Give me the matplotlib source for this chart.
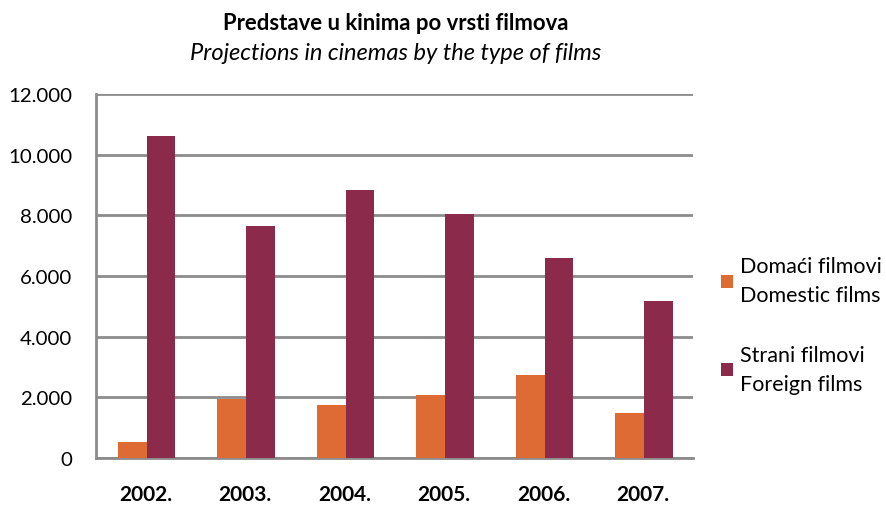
import matplotlib
matplotlib.use("Agg")
import matplotlib.pyplot as plt
import numpy as np
from matplotlib.patches import Patch

years = ["2002.", "2003.", "2004.", "2005.", "2006.", "2007."]
domestic = [540, 1950, 1750, 2080, 2720, 1490]
foreign = [10620, 7650, 8840, 8030, 6580, 5180]
yticks = [0, 2000, 4000, 6000, 8000, 10000, 12000]
ytick_labels = ["0", "2.000", "4.000", "6.000", "8.000", "10.000", "12.000"]
legend_labels = ["Domaći filmovi\nDomestic films", "Strani filmovi\nForeign films"]
title = "Predstave u kinima po vrsti filmova"
subtitle = "Projections in cinemas by the type of films"

c_dom = "#DD6B33"
c_for = "#8B2A4B"
grid_c = "#8C8C8C"

plt.rcParams['font.family'] = ['Lato', 'DejaVu Sans']

fig = plt.figure(figsize=(8.86, 5.06), dpi=100)
ax = fig.add_axes([96/886, 1-459/506, (693-96)/886, (459-95)/506])

x = np.arange(len(years))
w = 0.288
ax.bar(x - w/2 + 0.008, domestic, w, color=c_dom, zorder=3)
ax.bar(x + w/2 + 0.008, foreign, w, color=c_for, zorder=3)

ax.set_xlim(-0.5, len(years) - 0.5)
ax.set_ylim(0, 12000)
ax.set_yticks(yticks)
ax.set_yticklabels(ytick_labels, fontsize=14.7)
ax.set_xticks(x)
ax.set_xticklabels(years, fontsize=15, fontweight='bold')
ax.tick_params(axis='both', length=0)
ax.tick_params(axis='y', pad=17)
ax.tick_params(axis='x', pad=18.5)
ax.yaxis.grid(True, color=grid_c, linewidth=2, zorder=0)
ax.set_axisbelow(True)
for s in ['top', 'right']:
    ax.spines[s].set_visible(False)
for s in ['left', 'bottom']:
    ax.spines[s].set_color(grid_c)
    ax.spines[s].set_linewidth(2)

fig.text(396/886, 1-24/506, title, ha='center', va='center', fontsize=15.9, fontweight='bold')
fig.text(396/886, 1-54/506, subtitle, ha='center', va='center', fontsize=17, style='italic')

handles = [Patch(facecolor=c_dom), Patch(facecolor=c_for)]
leg = fig.legend(handles, legend_labels, loc='center left', bbox_to_anchor=(710/886, 1-326/506),
                 frameon=False, fontsize=15.5, handlelength=0.55, handleheight=0.55,
                 handletextpad=0.35, labelspacing=1.85, borderpad=0)
for t in leg.get_texts():
    t.set_linespacing(1.55)

fig.savefig("out.png", dpi=100)
